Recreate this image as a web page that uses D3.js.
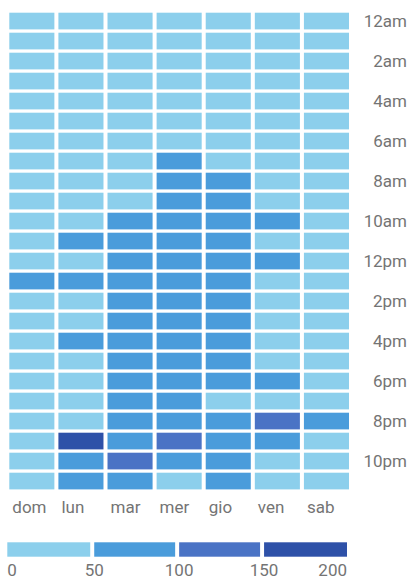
<!DOCTYPE html>
<html>
<head>
<meta charset="utf-8">
<script src="https://cdn.jsdelivr.net/npm/d3@7"></script>
<style>
  body { margin: 0; background: #fff; }
  text { font-family: Roboto, "Noto Sans", sans-serif; fill: #747474; }
</style>
</head>
<body>
<div id="chart"></div>
<script>
// giorni e ore
const days = ['dom', 'lun', 'mar', 'mer', 'gio', 'ven', 'sab'];
const hours = ['12am', '1am', '2am', '3am', '4am', '5am', '6am', '7am', '8am', '9am', '10am', '11am',
               '12pm', '1pm', '2pm', '3pm', '4pm', '5pm', '6pm', '7pm', '8pm', '9pm', '10pm', '11pm'];

// valori per ora (righe) x giorno (colonne: dom..sab)
const values = [
  [12, 10, 14, 18, 15, 11, 13],
  [8, 7, 10, 12, 11, 9, 9],
  [6, 5, 7, 9, 8, 6, 7],
  [5, 4, 6, 8, 7, 5, 6],
  [6, 5, 7, 10, 9, 6, 6],
  [9, 10, 14, 20, 17, 12, 10],
  [15, 20, 28, 38, 33, 25, 18],
  [22, 30, 42, 62, 46, 35, 25],
  [28, 38, 47, 74, 66, 44, 32],
  [32, 44, 48, 80, 72, 46, 38],
  [36, 46, 64, 82, 76, 60, 42],
  [40, 58, 70, 86, 78, 48, 44],
  [44, 48, 72, 84, 80, 62, 46],
  [56, 60, 74, 88, 82, 46, 42],
  [42, 46, 70, 86, 78, 44, 40],
  [38, 44, 72, 84, 76, 42, 38],
  [36, 58, 70, 82, 74, 40, 36],
  [34, 42, 74, 80, 72, 44, 34],
  [32, 40, 76, 78, 70, 58, 36],
  [36, 44, 80, 74, 48, 46, 40],
  [40, 46, 84, 78, 68, 112, 62],
  [42, 168, 86, 118, 76, 72, 46],
  [38, 64, 124, 82, 70, 44, 40],
  [30, 58, 70, 44, 62, 38, 34]
];

// legenda
const legendTicks = [0, 50, 100, 150, 200];
const colors = ['#8ccfec', '#4a9cdb', '#4a73c5', '#2e51a8'];

const width = 411, height = 581;

const svg = d3.select('#chart').append('svg')
  .attr('width', width)
  .attr('height', height);

const x = d3.scaleBand()
  .domain(days)
  .range([9.3, 349])
  .paddingInner(0.082);

const y = d3.scaleBand()
  .domain(hours)
  .range([12.7, 489.4])
  .paddingInner(0.165);

const color = d3.scaleThreshold()
  .domain([50, 100, 150])
  .range(colors);

// celle
const cells = [];
values.forEach((row, i) => row.forEach((v, j) => cells.push({ hour: hours[i], day: days[j], value: v })));

svg.append('g').selectAll('rect')
  .data(cells)
  .enter()
  .append('rect')
  .attr('x', d => x(d.day))
  .attr('y', d => y(d.hour))
  .attr('width', x.bandwidth())
  .attr('height', y.bandwidth())
  .attr('fill', d => color(d.value));

// etichette ore (una sì una no)
svg.append('g').selectAll('text')
  .data(hours.filter((h, i) => i % 2 === 0))
  .enter()
  .append('text')
  .attr('x', 407)
  .attr('y', d => y(d) + y.bandwidth() / 2)
  .attr('dy', '0.36em')
  .attr('text-anchor', 'end')
  .style('font-size', '17px')
  .text(d => d);

// etichette giorni
svg.append('g').selectAll('text')
  .data(days)
  .enter()
  .append('text')
  .attr('x', d => x(d) + 3)
  .attr('y', 513)
  .style('font-size', '17px')
  .text(d => d);

// legenda
const lx = d3.scaleLinear().domain([0, 200]).range([7.3, 347]);
const legend = svg.append('g');

legend.selectAll('rect')
  .data(colors)
  .enter()
  .append('rect')
  .attr('x', (d, i) => lx(legendTicks[i]) + (i > 0 ? 2 : 0))
  .attr('y', 542.3)
  .attr('width', (d, i) => lx(legendTicks[i + 1]) - lx(legendTicks[i]) - (i > 0 ? 2 : 0) - (i < 3 ? 2 : 0))
  .attr('height', 14.4)
  .attr('fill', d => d);

legend.selectAll('text')
  .data(legendTicks)
  .enter()
  .append('text')
  .attr('x', (d, i) => lx(d) + (i > 0 && i < legendTicks.length - 1 ? 2 : 0))
  .attr('y', 576)
  .attr('text-anchor', (d, i) => i === 0 ? 'start' : (i === legendTicks.length - 1 ? 'end' : 'middle'))
  .style('font-size', '17px')
  .text(d => d);
</script>
</body>
</html>
